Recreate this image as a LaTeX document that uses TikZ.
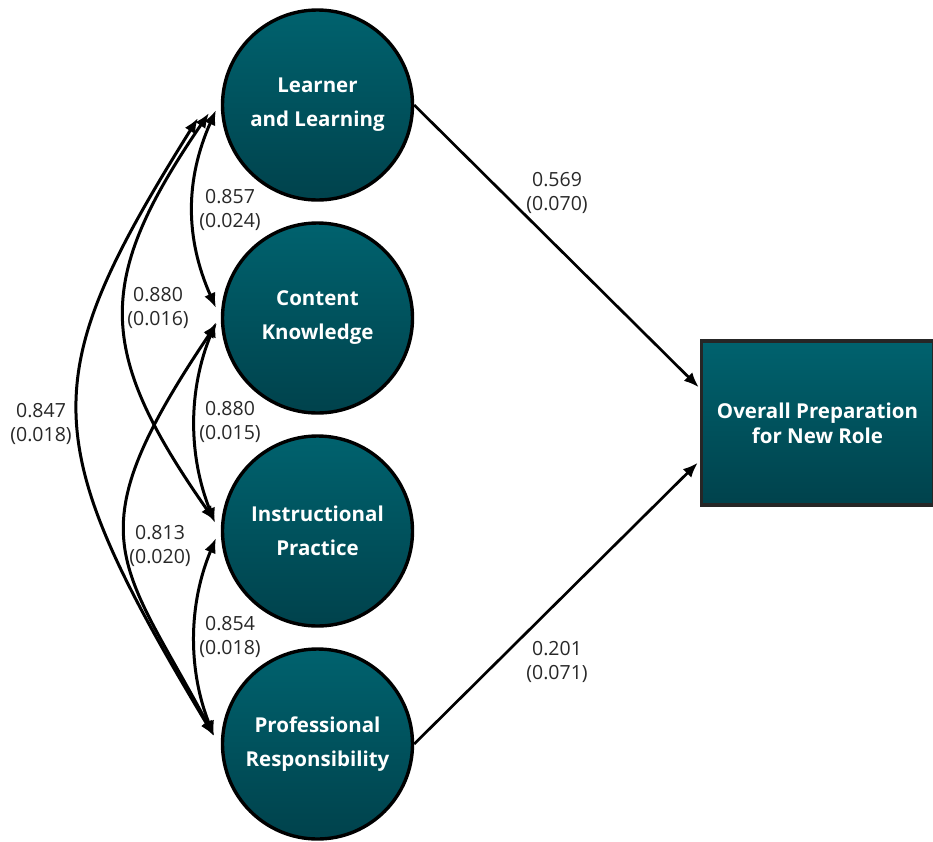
\documentclass[tikz,border=0pt]{standalone}
\usepackage{fontspec}
\setmainfont{Open Sans}
\usetikzlibrary{arrows.meta}
\definecolor{tealtop}{RGB}{0,98,110}
\definecolor{tealbot}{RGB}{0,66,76}
\definecolor{labelgray}{RGB}{40,40,40}

\begin{document}
\begin{tikzpicture}[x=1pt,y=-1pt,
  latent/.style={circle, minimum size=190pt, inner sep=0pt, draw=black, line width=3.4pt,
    top color=tealtop, bottom color=tealbot, text=white,
    font=\bfseries\fontsize{20.5}{34}\selectfont, align=center},
  outcome/.style={rectangle, minimum width=232pt, minimum height=164pt, inner sep=0pt,
    draw=black!85, line width=3.4pt, top color=tealtop, bottom color=tealbot, text=white,
    font=\bfseries\fontsize{20.5}{25}\selectfont, align=center},
  est/.style={font=\fontsize{19.5}{23.5}\selectfont, text=labelgray, align=center, inner sep=0pt},
  cov/.style={{Latex[length=15pt,width=12pt]}-{Latex[length=15pt,width=12pt]}, line width=3pt},
  reg/.style={-{Latex[length=15pt,width=12pt]}, line width=2.7pt},
]
\path[use as bounding box] (0,0) rectangle (933,841);

% latent factors
\node[latent] (c1) at (317.5,105) {Learner\\and Learning};
\node[latent] (c2) at (317.5,318) {Content\\Knowledge};
\node[latent] (c3) at (317.5,531) {Instructional\\Practice};
\node[latent] (c4) at (317.5,744) {Professional\\Responsibility};

% outcome
\node[outcome] (out) at (817.5,423) {Overall Preparation\\for New Role};

% covariances
\draw[cov] ([shift={(-101.5,5)}]c1.center) .. controls +(-31,70) and +(-31,-70) .. ([shift={(-101.5,-10)}]c2.center);
\draw[cov] ([shift={(-108.5,8)}]c1.center) .. controls +(-114,167) and +(-120,-171) .. ([shift={(-102.5,-10)}]c3.center);
\draw[cov] ([shift={(-119.5,13)}]c1.center) .. controls +(-163,261) and +(-179,-298) .. ([shift={(-103.5,-8)}]c4.center);
\draw[cov] ([shift={(-101.5,4)}]c2.center) .. controls +(-28,68) and +(-27,-68) .. ([shift={(-102.5,-8)}]c3.center);
\draw[cov] ([shift={(-100.5,5)}]c2.center) .. controls +(-145,215) and +(-94,-177) .. ([shift={(-103.5,-8)}]c4.center);
\draw[cov] ([shift={(-101.5,7)}]c3.center) .. controls +(-28,67) and +(-26,-66) .. ([shift={(-103.5,-8)}]c4.center);

% regressions
\draw[reg] (c1.east) -- ([shift={(-1,48)}]out.north west);
\draw[reg] (c4.east) -- ([shift={(-2,-44)}]out.south west);

% estimates
\node[est] (e12) at (230,210) {0.857\\(0.024)};
\node[est] (e13) at (158,308) {0.880\\(0.016)};
\node[est] (e14) at (41,424) {0.847\\(0.018)};
\node[est] (e23) at (230,422) {0.880\\(0.015)};
\node[est] (e24) at (160,546) {0.813\\(0.020)};
\node[est] (e34) at (230,637) {0.854\\(0.018)};
\node[est] (e1o) at (557,193) {0.569\\(0.070)};
\node[est] (e4o) at (557,662) {0.201\\(0.071)};
\end{tikzpicture}
\end{document}
